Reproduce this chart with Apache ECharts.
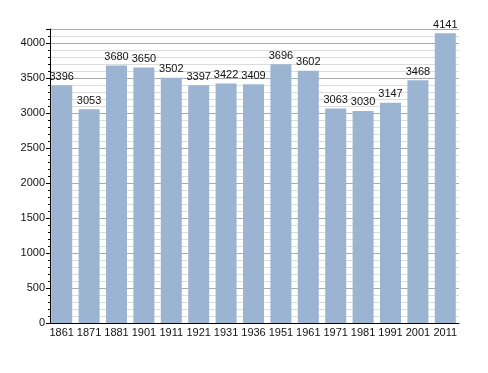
<!DOCTYPE html>
<html><head><meta charset="utf-8">
<script src="https://cdn.jsdelivr.net/npm/echarts@6/dist/echarts.min.js"></script>
<style>html,body{margin:0;padding:0;background:#fff}#c{width:488px;height:373px}</style>
</head><body><div id="c"></div>
<script>
var years = ['1861','1871','1881','1901','1911','1921','1931','1936','1951','1961','1971','1981','1991','2001','2011'];
var population = [3396,3053,3680,3650,3502,3397,3422,3409,3696,3602,3063,3030,3147,3468,4141];
var yTicks = [0,500,1000,1500,2000,2500,3000,3500,4000];

var chart = echarts.init(document.getElementById('c'), null, {renderer:'canvas'});
chart.setOption({
  animation:false,
  grid:{left:48,right:29,top:29,bottom:50,containLabel:false},
  xAxis:{type:'category',data:years,
    axisLine:{lineStyle:{color:'#000',width:1}},
    axisTick:{show:false},
    axisLabel:{color:'#111',fontFamily:'Liberation Sans, Arial, sans-serif',fontSize:11,margin:4,interval:0}},
  yAxis:{type:'value',min:0,max:4200,interval:500,offset:-2,
    axisLine:{show:true,lineStyle:{color:'#000',width:1}},
    axisTick:{show:true,length:4,lineStyle:{color:'#000'}},
    minorTick:{show:true,splitNumber:5,length:2,lineStyle:{color:'#000'}},
    splitLine:{show:true,lineStyle:{color:'#aaaaaa',width:1}},
    minorSplitLine:{show:true,lineStyle:{color:'#dcdcdc',width:1}},
    axisLabel:{color:'#111',fontFamily:'Liberation Sans, Arial, sans-serif',fontSize:11,margin:5,
      formatter:function(v){return yTicks.indexOf(v)>=0?String(v):'';}}},
  series:[{type:'bar',data:population,barWidth:21,
    itemStyle:{color:'#9bb4d1'},
    label:{show:true,position:'top',distance:3,color:'#111',fontFamily:'Liberation Sans, Arial, sans-serif',fontSize:11}}]
});
</script></body></html>
